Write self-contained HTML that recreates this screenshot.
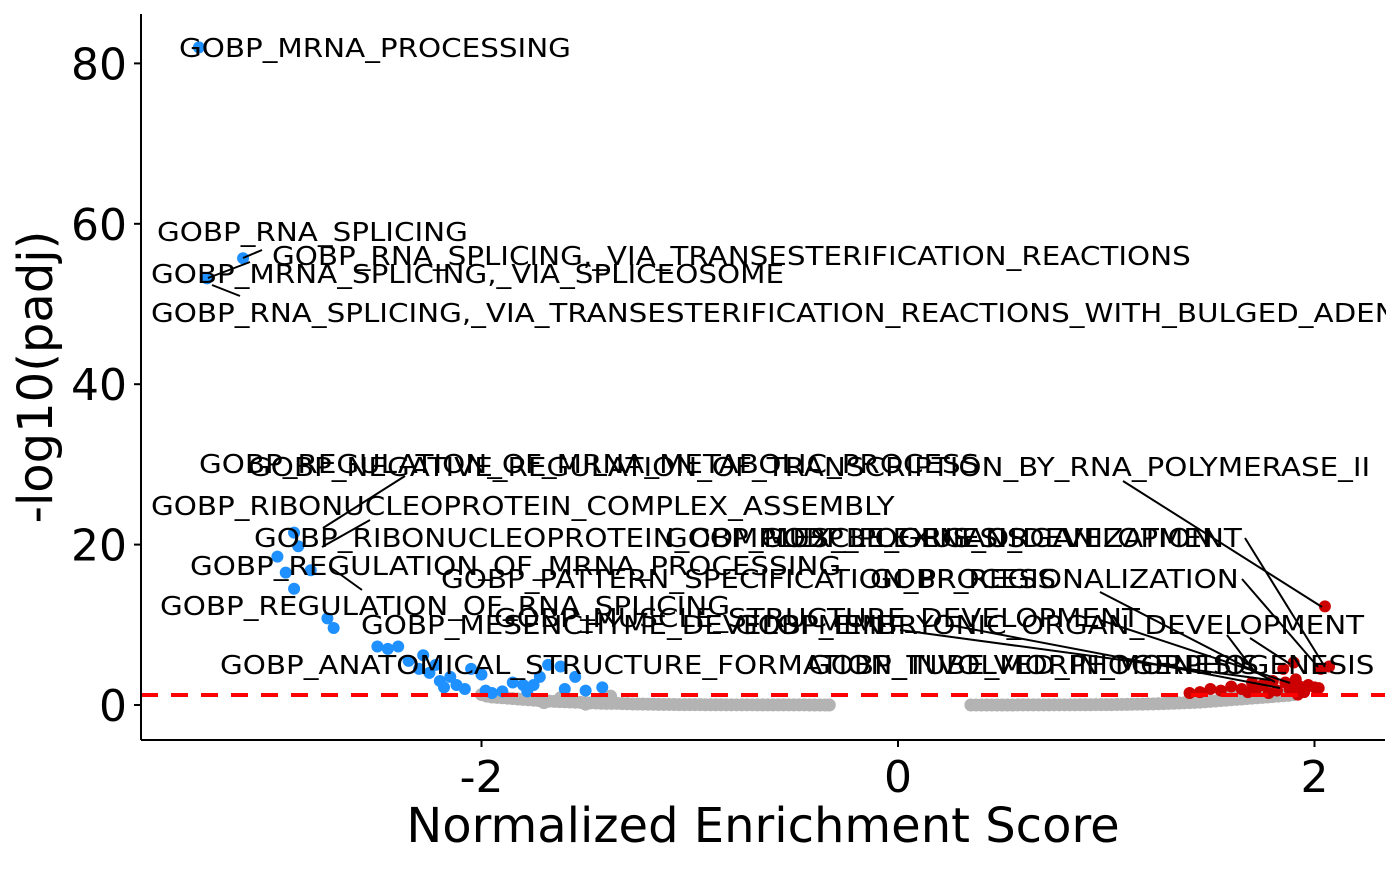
<!DOCTYPE html>
<html><head><meta charset="utf-8"><style>
body{margin:0;background:#fff;}
svg text{font-family:"DejaVu Sans","Liberation Sans",sans-serif;}
</style></head><body>
<svg id="chart" width="1400" height="865" xmlns="http://www.w3.org/2000/svg">
<g id="gray"></g>
<g id="blue"></g>
<g id="red"></g>
<line x1="141" x2="1385" y1="695" y2="695" stroke="#ff0000" stroke-width="4" stroke-dasharray="17,13"/>
<g id="labels"></g>
<line x1="141" y1="14" x2="141" y2="740" stroke="#000" stroke-width="2"/>
<line x1="141" y1="740" x2="1385" y2="740" stroke="#000" stroke-width="2"/>
<g id="ticks"></g>
<text x="763" y="842" font-size="48" text-anchor="middle">Normalized Enrichment Score</text>
<text transform="translate(52,377) rotate(-90)" font-size="48" text-anchor="middle">-log10(padj)</text>
</svg>
<script>
const xTicks=[-2,0,2];
const yTicks=[0,20,40,60,80];
const blueX=[-3.357,-3.145,-3.318,-2.9,-2.88,-2.98,-2.94,-2.82,-2.9,-2.74,-2.71,-2.5,-2.45,-2.4,-2.35,-2.3,-2.28,-2.25,-2.2,-2.15,-2.12,-2.08,-2.05,-2.0,-1.98,-1.95,-1.9,-1.85,-1.8,-1.75,-1.72,-1.68,-1.62,-1.6,-1.55,-1.5,-1.42,-2.18,-2.22,-1.78];
const blueY=[82,55.7,53.2,21.5,19.8,18.5,16.5,16.8,14.5,10.8,9.6,7.3,7,7.3,5.5,4.5,6.2,4,3,3.5,2.5,2,4.5,3.8,1.8,1.5,1.7,2.8,2.5,2.5,3.5,5,4.8,2,3.5,1.8,2.2,2.2,5,1.7];
const redX=[2.05,2.07,2.03,1.9,1.85,1.8,1.75,1.7,1.65,1.6,1.55,1.5,1.45,1.4,1.93,1.97,2.0,1.88,1.82,1.95,1.78,1.72,1.68,1.92,2.02,1.86,1.91];
const redY=[12.3,4.8,4.5,5.3,4.5,3,2.5,2.8,2,2.3,1.8,2,1.6,1.5,2.3,2.5,2.2,2,1.8,1.6,1.5,2,1.6,1.3,2.1,2.8,3.2];
const grayX=[-2.0,-1.975,-1.95,-1.925,-1.9,-1.875,-1.85,-1.825,-1.8,-1.775,-1.75,-1.725,-1.7,-1.675,-1.65,-1.625,-1.6,-1.575,-1.55,-1.525,-1.5,-1.475,-1.45,-1.425,-1.4,-1.375,-1.35,-1.325,-1.3,-1.275,-1.25,-1.225,-1.2,-1.175,-1.15,-1.125,-1.1,-1.075,-1.05,-1.025,-1.0,-0.975,-0.95,-0.925,-0.9,-0.875,-0.85,-0.825,-0.8,-0.775,-0.75,-0.725,-0.7,-0.675,-0.65,-0.625,-0.6,-0.575,-0.55,-0.525,-0.5,-0.475,-0.45,-0.425,-0.4,-0.375,-0.35,-0.33,-1.38,-1.62,-1.9,-1.7,-1.5,
0.35,0.375,0.4,0.425,0.45,0.475,0.5,0.525,0.55,0.575,0.6,0.625,0.65,0.675,0.7,0.725,0.75,0.775,0.8,0.825,0.85,0.875,0.9,0.925,0.95,0.975,1.0,1.025,1.05,1.075,1.1,1.125,1.15,1.175,1.2,1.225,1.25,1.275,1.3,1.325,1.35,1.375,1.4,1.425,1.45,1.475,1.5,1.525,1.55,1.575,1.6,1.625,1.65,1.675,1.7,1.725,1.75,1.775,1.8,1.825,1.85,1.875,1.9,1.45,1.6,1.75,1.3,1.55];
const grayY=[1.3,1.1,1.0,0.95,0.9,0.85,0.8,0.75,0.7,0.65,0.6,0.55,0.5,0.48,0.45,0.42,0.4,0.37,0.35,0.32,0.3,0.27,0.25,0.22,0.2,0.2,0.2,0.17,0.15,0.13,0.12,0.11,0.1,0.09,0.08,0.07,0.07,0.06,0.05,0.05,0.05,0.04,0.04,0.03,0.03,0.03,0.03,0.02,0.02,0.02,0.02,0.02,0.02,0.01,0.01,0.01,0.01,0.01,0.01,0.01,0.01,0.01,0.01,0.0,0.0,0.0,0.0,0.0,1.1,0.9,1.4,0.3,0.1,
0.0,0.0,0.0,0.0,0.0,0.0,0.0,0.0,0.0,0.01,0.01,0.01,0.01,0.01,0.01,0.01,0.02,0.02,0.02,0.02,0.02,0.03,0.03,0.03,0.04,0.04,0.05,0.05,0.06,0.07,0.08,0.09,0.1,0.11,0.12,0.13,0.15,0.17,0.2,0.22,0.25,0.27,0.3,0.32,0.35,0.4,0.45,0.5,0.55,0.6,0.65,0.7,0.75,0.8,0.85,0.9,0.95,1.0,1.05,1.1,1.15,1.2,1.3,1.0,1.2,1.3,0.4,0.8];
const labelText=["GOBP_MRNA_PROCESSING","GOBP_RNA_SPLICING","GOBP_RNA_SPLICING,_VIA_TRANSESTERIFICATION_REACTIONS","GOBP_MRNA_SPLICING,_VIA_SPLICEOSOME","GOBP_RNA_SPLICING,_VIA_TRANSESTERIFICATION_REACTIONS_WITH_BULGED_ADENOSINE_AS_NUCLEOPHILE","GOBP_REGULATION_OF_MRNA_METABOLIC_PROCESS","GOBP_NEGATIVE_REGULATION_OF_TRANSCRIPTION_BY_RNA_POLYMERASE_II","GOBP_RIBONUCLEOPROTEIN_COMPLEX_ASSEMBLY","GOBP_RIBONUCLEOPROTEIN_COMPLEX_BIOGENESIS","GOBP_MUSCLE_ORGAN_DEVELOPMENT","GOBP_PLEXUS_ORGANIZATION","GOBP_REGULATION_OF_MRNA_PROCESSING","GOBP_PATTERN_SPECIFICATION_PROCESS","GOBP_REGIONALIZATION","GOBP_REGULATION_OF_RNA_SPLICING","GOBP_MUSCLE_STRUCTURE_DEVELOPMENT","GOBP_MESENCHYME_DEVELOPMENT","GOBP_EMBRYONIC_ORGAN_DEVELOPMENT","GOBP_ANATOMICAL_STRUCTURE_FORMATION_INVOLVED_IN_MORPHOGENESIS","GOBP_TUBE_MORPHOGENESIS"];
const labelPos=[[179,48],[157,232],[272,256],[151,274],[151,313],[199,464],[248,467],[151,506],[254,538],[665,538],[760,538],[190,566],[441,579],[870,579],[160,606],[494,618],[361,625],[735,625],[220,665],[808,665]];
const leaders=[[262,250,243,258],[208,278,250,262],[212,285,240,296],[405,476,323,528],[370,520,322,547],[330,567,362,590],[1123,481,1322,607],[1245,538,1325,667],[1242,579,1318,667],[1250,638,1290,664],[1100,592,1275,682],[1100,620,1290,683],[1227,635,1255,672],[900,630,1270,680],[950,625,1280,688]];
const X=v=>898+v*208.25, Y=v=>705-v*8.02;
const NS="http://www.w3.org/2000/svg";
function mk(t,a,p){const e=document.createElementNS(NS,t);for(const k in a)e.setAttribute(k,a[k]);p.appendChild(e);return e;}
const g=document.getElementById('gray'),b=document.getElementById('blue'),r=document.getElementById('red'),L=document.getElementById('labels'),T=document.getElementById('ticks');
grayX.forEach((x,i)=>{const c=mk('circle',{cx:X(x),cy:Y(grayY[i]),r:6.5,fill:'#b3b3b3'},g);

});
blueX.forEach((x,i)=>{const c=mk('circle',{cx:X(x),cy:Y(blueY[i]),r:6,fill:'#1e90ff'},b);

});
redX.forEach((x,i)=>{const c=mk('circle',{cx:X(x),cy:Y(redY[i]),r:6,fill:'#cc0000'},r);

});
leaders.forEach(l=>{const e=mk('line',{x1:l[0],y1:l[1],x2:l[2],y2:l[3],stroke:'#000','stroke-width':2},L);

});
labelText.forEach((s,i)=>{const e=mk('text',{transform:`translate(${labelPos[i][0]},${labelPos[i][1]+9}) scale(1.13,1)`,'font-size':26},L);e.textContent=s;

});
mk('rect',{x:1386,y:0,width:14,height:865,fill:'#fff'},L);
xTicks.forEach(v=>{mk('line',{x1:X(v),x2:X(v),y1:740,y2:747,stroke:'#000','stroke-width':2},T);
const t=mk('text',{x:X(v),y:792,'font-size':44,'text-anchor':'middle'},T);t.textContent=v<0?'-'+Math.abs(v):v;

});
yTicks.forEach(v=>{mk('line',{x1:134,x2:141,y1:Y(v),y2:Y(v),stroke:'#000','stroke-width':2},T);
const t=mk('text',{x:127,y:Y(v)+16,'font-size':44,'text-anchor':'end'},T);t.textContent=v;

});
</script>
</body></html>
